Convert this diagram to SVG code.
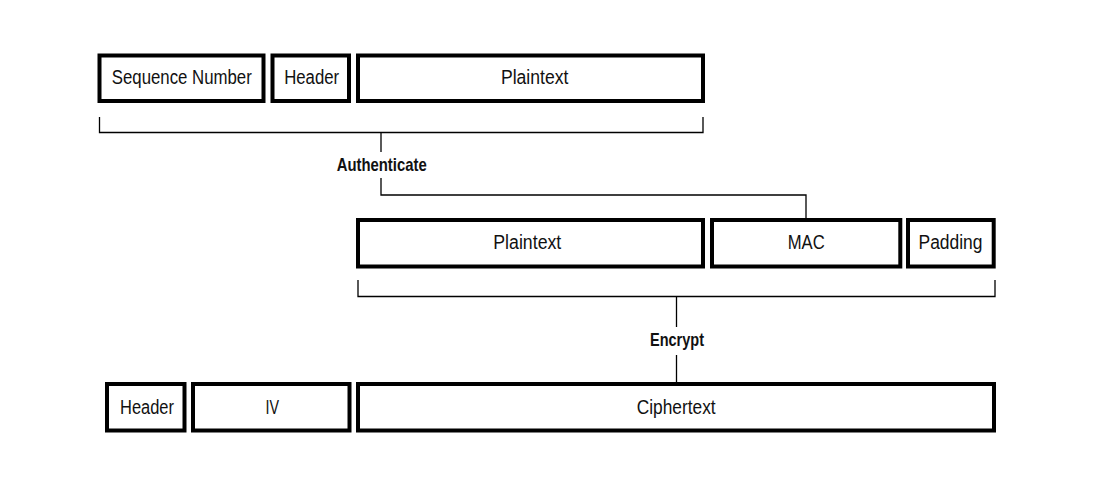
<svg xmlns="http://www.w3.org/2000/svg" width="1111" height="488" viewBox="0 0 1111 488">
<style>
.box{fill:#fff;stroke:#000;stroke-width:4}
.lbl{font-family:"Liberation Sans",Arial,sans-serif;font-size:20px;fill:#111;text-anchor:middle}
.op{font-family:"Liberation Sans",Arial,sans-serif;font-size:18.5px;font-weight:bold;fill:#111;text-anchor:middle}
.conn{fill:none;stroke:#000;stroke-width:1.3}
</style>
<rect width="1111" height="488" fill="#fff"/>
<g id="connectors">
<path class="conn" d="M99.5,117 V132.5 H703 V117"/>
<path class="conn" d="M381,132.5 V152"/>
<path class="conn" d="M381,178 V195 H806 V218"/>
<path class="conn" d="M358,280 V296.5 H995 V280"/>
<path class="conn" d="M676.5,296.5 V327"/>
<path class="conn" d="M676.5,355 V382"/>
</g>
<g id="seqnum"><rect class="box" x="99.5" y="55.5" width="164" height="45.5"/><text class="lbl" x="181.8" y="84" textLength="140" lengthAdjust="spacingAndGlyphs">Sequence Number</text></g>
<g id="header1"><rect class="box" x="272.5" y="55.5" width="76.5" height="45.5"/><text class="lbl" x="311.7" y="84" textLength="55" lengthAdjust="spacingAndGlyphs">Header</text></g>
<g id="plaintext1"><rect class="box" x="358" y="55.5" width="345" height="45.5"/><text class="lbl" x="534.7" y="84" textLength="67.5" lengthAdjust="spacingAndGlyphs">Plaintext</text></g>
<g id="authenticate"><text class="op" x="381.7" y="170.5" textLength="90" lengthAdjust="spacingAndGlyphs">Authenticate</text></g>
<g id="plaintext2"><rect class="box" x="358" y="220" width="345" height="46.5"/><text class="lbl" x="527.3" y="249.3" textLength="68" lengthAdjust="spacingAndGlyphs">Plaintext</text></g>
<g id="mac"><rect class="box" x="712" y="220" width="188.3" height="46.5"/><text class="lbl" x="806.2" y="249.3" textLength="37" lengthAdjust="spacingAndGlyphs">MAC</text></g>
<g id="padding"><rect class="box" x="908" y="220" width="85.7" height="46.5"/><text class="lbl" x="950.5" y="249.3" textLength="64" lengthAdjust="spacingAndGlyphs">Padding</text></g>
<g id="encrypt"><text class="op" x="677" y="346" textLength="54" lengthAdjust="spacingAndGlyphs">Encrypt</text></g>
<g id="header2"><rect class="box" x="107" y="384" width="77.5" height="46.5"/><text class="lbl" x="147" y="414" textLength="54" lengthAdjust="spacingAndGlyphs">Header</text></g>
<g id="iv"><rect class="box" x="193" y="384" width="156.5" height="46.5"/><text class="lbl" x="272.2" y="414" textLength="13.5" lengthAdjust="spacingAndGlyphs">IV</text></g>
<g id="ciphertext"><rect class="box" x="358" y="384" width="636" height="46.5"/><text class="lbl" x="676.2" y="414" textLength="79" lengthAdjust="spacingAndGlyphs">Ciphertext</text></g>
</svg>
